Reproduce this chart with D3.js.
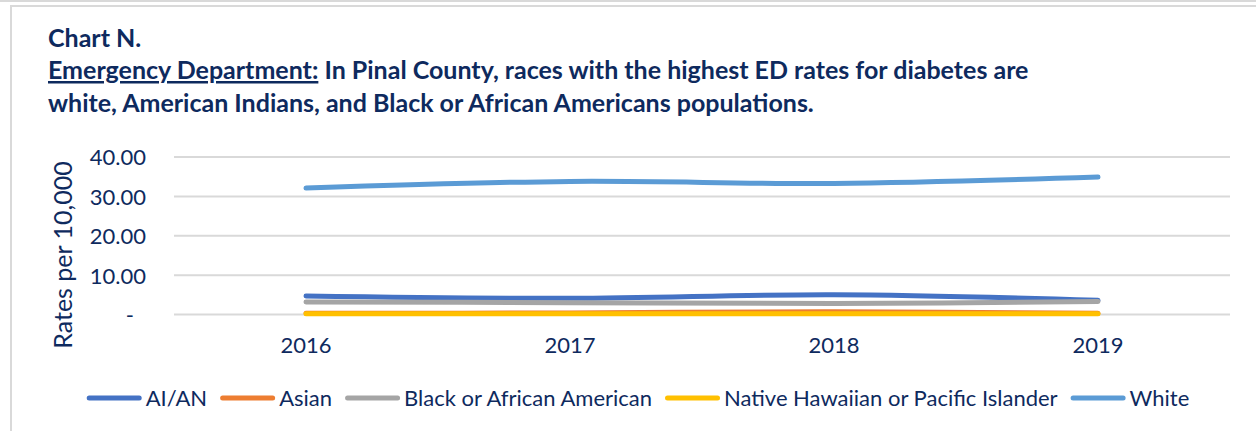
<!DOCTYPE html>
<html>
<head>
<meta charset="utf-8">
<script src="https://cdn.jsdelivr.net/npm/d3@7"></script>
<style>
  body { margin: 0; background: #fff; }
  svg { display: block; }
</style>
</head>
<body>
<script>
// values (rates per 10,000)
const years = ["2016", "2017", "2018", "2019"];
const aian = [4.7, 4.1, 5.0, 3.6];
const asian = [0.3, 0.4, 0.7, 0.3];
const black = [3.2, 3.0, 2.8, 3.3];
const nhpi = [0.2, 0.2, 0.2, 0.2];
const white = [32.1, 33.8, 33.3, 34.9];
const yTicks = [0, 10, 20, 30, 40];

const series = [
  {name: "AI/AN", values: aian, color: "#4472c4"},
  {name: "Asian", values: asian, color: "#ed7d31"},
  {name: "Black or African American", values: black, color: "#a5a5a5"},
  {name: "Native Hawaiian or Pacific Islander", values: nhpi, color: "#ffc000"},
  {name: "White", values: white, color: "#5b9bd5"}
];

const width = 1256, height = 431;
const ink = "#0e2a5e";
const font = "Lato, 'Open Sans', sans-serif";

const svg = d3.select("body").append("svg")
    .attr("width", width)
    .attr("height", height)
    .attr("font-family", font);

// frame
svg.append("line")
    .attr("x1", 0).attr("x2", width).attr("y1", 1).attr("y2", 1)
    .attr("stroke", "#d9d9d9").attr("stroke-width", 2);
svg.append("path")
    .attr("d", `M11,${height}V6H${width}`)
    .attr("fill", "none")
    .attr("stroke", "#d9d9d9").attr("stroke-width", 2);

// title
const title = svg.append("g")
    .attr("fill", ink)
    .attr("font-weight", "bold")
    .attr("font-size", 25);
title.append("text").attr("x", 48).attr("y", 47).text("Chart N.");
const t2 = title.append("text").attr("x", 48).attr("y", 79);
t2.append("tspan").attr("text-decoration", "underline").text("Emergency Department:");
t2.append("tspan").text(" In Pinal County, races with the highest ED rates for diabetes are");
title.append("text").attr("x", 48).attr("y", 112)
    .text("white, American Indians, and Black or African Americans populations.");

// scales
const x = d3.scaleBand().domain(years).range([174, 1230]);
const y = d3.scaleLinear().domain([0, 40]).range([314.5, 157]);

// grid
svg.append("g")
    .attr("stroke", "#d9d9d9")
    .attr("stroke-width", 2)
  .selectAll("line")
  .data(yTicks)
  .join("line")
    .attr("x1", 174).attr("x2", 1230)
    .attr("y1", d => y(d)).attr("y2", d => y(d));

// y axis labels
const yAxis = svg.append("g")
    .attr("transform", "translate(146,0)")
    .call(d3.axisLeft(y).tickValues(yTicks).tickSize(0).tickPadding(0)
      .tickFormat(d => d === 0 ? "-" : d3.format(".2f")(d)));
yAxis.select(".domain").remove();
yAxis.selectAll("text")
    .attr("fill", ink)
    .attr("font-family", font)
    .attr("font-size", 22)
    .attr("dy", "0.36em")
    .filter(d => d === 0)
    .attr("dx", -12);

svg.append("text")
    .attr("transform", "translate(72,255) rotate(-90)")
    .attr("text-anchor", "middle")
    .attr("fill", ink)
    .attr("font-size", 25)
    .text("Rates per 10,000");

// x axis labels
const xAxis = svg.append("g")
    .attr("transform", "translate(0,337)")
    .call(d3.axisBottom(x).tickSize(0).tickPadding(0));
xAxis.select(".domain").remove();
xAxis.selectAll("text")
    .attr("fill", ink)
    .attr("font-family", font)
    .attr("font-size", 22)
    .attr("dy", "0.71em");

// lines
const line = d3.line()
    .x((d, i) => x(years[i]) + x.bandwidth() / 2)
    .y(d => y(d))
    .curve(d3.curveCatmullRom.alpha(0.5));

svg.append("g")
    .attr("fill", "none")
    .attr("stroke-width", 5)
    .attr("stroke-linecap", "round")
    .attr("stroke-linejoin", "round")
  .selectAll("path")
  .data(series)
  .join("path")
    .attr("stroke", d => d.color)
    .attr("d", d => line(d.values));

// legend
const legend = svg.append("g")
    .attr("font-size", 22)
    .attr("fill", ink);
const items = legend.selectAll("g")
  .data(series)
  .join("g");
items.append("line")
    .attr("x1", 2.5).attr("x2", 52.5)
    .attr("y1", 0).attr("y2", 0)
    .attr("stroke", d => d.color)
    .attr("stroke-width", 5)
    .attr("stroke-linecap", "round");
items.append("text")
    .attr("x", 59)
    .attr("dy", "0.35em")
    .text(d => d.name);

const widths = [];
items.each(function() {
  widths.push(59 + this.querySelector("text").getComputedTextLength());
});
const gap = 13;
const total = d3.sum(widths) + gap * (widths.length - 1);
let offset = 638 - total / 2;
items.attr("transform", (d, i) => {
  const pos = offset;
  offset += widths[i] + gap;
  return `translate(${pos},398)`;
});
</script>
</body>
</html>
